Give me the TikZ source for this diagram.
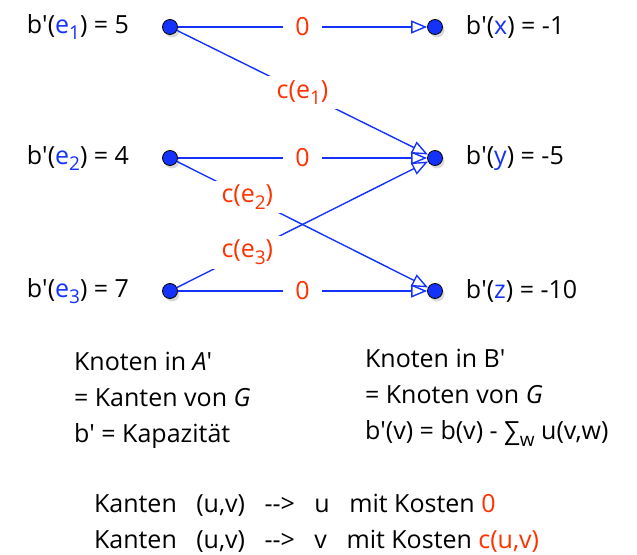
\documentclass[tikz,border=0pt]{standalone}
\usepackage{fontspec}
\setmainfont{Open Sans}
\definecolor{kblue}{RGB}{20,50,250}
\definecolor{kred}{RGB}{255,50,0}
\usetikzlibrary{arrows.meta,positioning,shadows}
\newcommand{\q}{\textquotesingle}
\newcommand{\ix}[1]{\raisebox{-0.5ex}{\fontsize{9.5}{9.5}\selectfont #1}}

\begin{document}
\begin{tikzpicture}[x=0.5pt, y=-0.5pt, font=\fontsize{12.5}{18}\selectfont,
  vertex/.style={circle, draw=black, fill=kblue, inner sep=0pt, minimum size=7.5pt,
    drop shadow={shadow xshift=1pt, shadow yshift=-1.5pt, opacity=0.3}},
  flow/.style={kblue, line width=0.7pt, -{Triangle[open, length=8pt, width=6.5pt]}},
  cost/.style={text=kred, fill=white, inner xsep=6pt, inner ysep=2pt}]
  \useasboundingbox (0,0) rectangle (637,555);

  % Knoten in A'
  \node[vertex] (e1) at (170,27) {};
  \node[vertex] (e2) at (170,158) {};
  \node[vertex] (e3) at (170,291) {};

  % Knoten in B'
  \node[vertex] (x) at (435,27) {};
  \node[vertex] (y) at (435,158) {};
  \node[vertex] (z) at (435,291) {};

  % b' values
  \node[left=13pt of e1] (be1) {b\q(\textcolor{kblue}{e\ix{1}}) = 5};
  \node[left=13pt of e2] (be2) {b\q(\textcolor{kblue}{e\ix{2}}) = 4};
  \node[left=13pt of e3] (be3) {b\q(\textcolor{kblue}{e\ix{3}}) = 7};
  \node[right=8pt of x] (bx) {b\q(\textcolor{kblue}{x}) = -1};
  \node[right=8pt of y] (by) {b\q(\textcolor{kblue}{y}) = -5};
  \node[right=8pt of z] (bz) {b\q(\textcolor{kblue}{z}) = -10};

  % Kanten
  \draw[flow] (e1) -- node[cost] {0} (x);
  \draw[flow] (e1) -- node[cost] {c(e\ix{1})} (y);
  \draw[flow] (e2) -- node[cost] {0} (y);
  \draw[flow] (e2) -- node[cost, pos=0.28] {c(e\ix{2})} (z);
  \draw[flow] (e3) -- node[cost] {0} (z);
  \draw[flow] (e3) -- node[cost, pos=0.28] {c(e\ix{3})} (y);

  % Erklaerung
  \node[anchor=west, align=left] (infoA) at (67,400)
    {Knoten in \textit{A}\q\\= Kanten von \textit{G}\\b\q{} = Kapazität};
  \node[anchor=west, align=left] (infoB) at (358,398)
    {Knoten in B\q\\= Knoten von \textit{G}\\b\q(v) = b(v) - ∑\ix{w} u(v,w)};
  \node[anchor=west, align=left] (rules) at (87,523)
    {Kanten~~ (u,v)~~ -{}-{}>~~ u~~ mit Kosten \textcolor{kred}{0}\\
     Kanten~~ (u,v)~~ -{}-{}>~~ v~~ mit Kosten \textcolor{kred}{c(u,v)}};
\end{tikzpicture}
\end{document}
